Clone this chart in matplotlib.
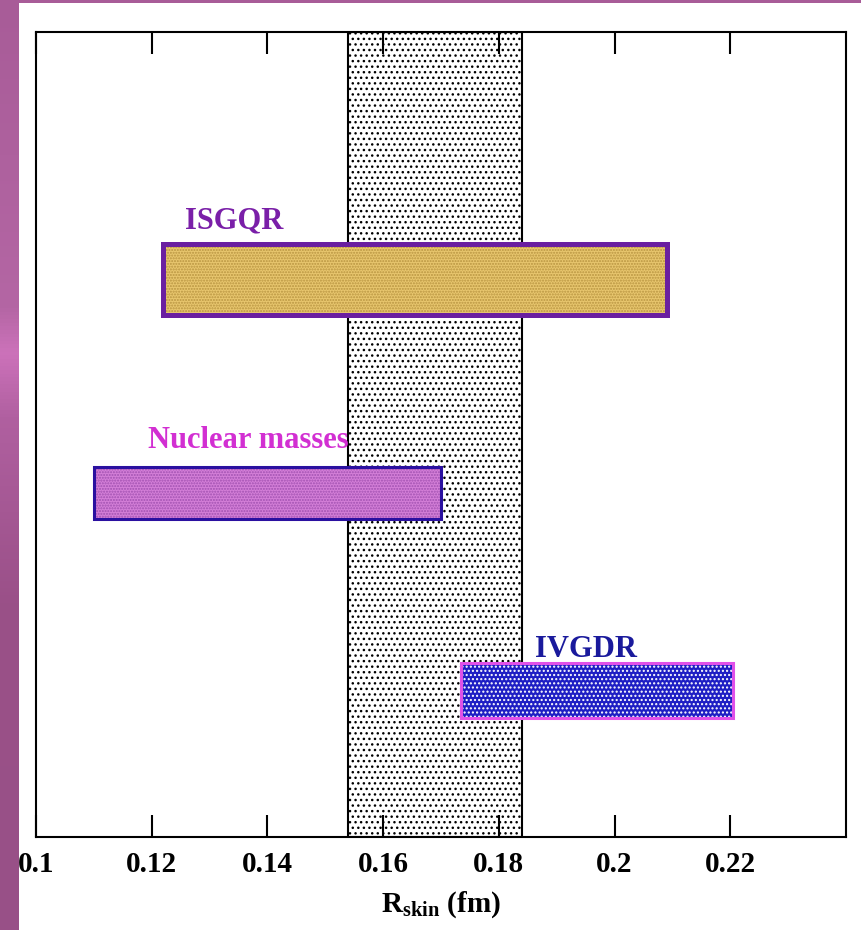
import numpy as np
import matplotlib
matplotlib.use("Agg")
from matplotlib import pyplot as plt
from matplotlib.colors import LinearSegmentedColormap
from matplotlib.patches import Rectangle

# constraints on the neutron skin (fm)
labels = ["ISGQR", "Nuclear masses", "IVGDR"]
x_low = [0.122, 0.110, 0.1735]
x_high = [0.209, 0.170, 0.2205]
band_low = 0.154
band_high = 0.184
x_ticks = [0.1, 0.12, 0.14, 0.16, 0.18, 0.2, 0.22]
x_tick_labels = ["0.1", "0.12", "0.14", "0.16", "0.18", "0.2", "0.22"]

plt.rcParams["font.family"] = ["Liberation Serif", "DejaVu Serif"]
plt.rcParams["font.weight"] = "bold"
plt.rcParams["hatch.linewidth"] = 1.0

fig = plt.figure(figsize=(8.62, 9.30), dpi=100)

# slide background: purple strip on the left/top, white page
bg = fig.add_axes([0, 0, 1, 1], zorder=-10)
bg.set_axis_off()
cmap = LinearSegmentedColormap.from_list(
    "slide",
    [(0.0, "#a85c98"), (0.33, "#b466a4"), (0.38, "#cc72ba"),
     (0.45, "#b060a0"), (0.65, "#9a5088"), (1.0, "#985087")],
)
grad = np.linspace(0, 1, 256).reshape(-1, 1)
bg.imshow(grad, cmap=cmap, aspect="auto", extent=(0, 1, 0, 1), origin="upper")
bg.add_patch(Rectangle((19 / 862, 0), 1, 927 / 930, facecolor="white",
                       edgecolor="none"))
bg.set_xlim(0, 1)
bg.set_ylim(0, 1)

ax = fig.add_axes([36 / 862, 93 / 930, 810 / 862, 805 / 930])
ax.set_facecolor("white")

# allowed band
ax.axvspan(band_low, band_high, facecolor="white", edgecolor="black",
           hatch="...", linewidth=1.5, zorder=1)

rows = [0.6925, 0.4275, 0.182]
heights = [0.089, 0.065, 0.068]
fills = ["#e8c66e", "#d47fd8", "#1e1ec4"]
dots = ["#b89440", "#a050b0", "#ffffff"]
hatches = ["......", "......", "...."]
edges = ["#6a1fa0", "#2a10a0", "#e050e8"]
edge_widths = [3.6, 2.2, 2.2]
text_colors = ["#7a1fa8", "#d22fd2", "#1a1a9c"]
text_x = [0.1258, 0.1194, 0.1863]
text_y = [0.7565, 0.4832, 0.2236]

for i, name in enumerate(labels):
    w = x_high[i] - x_low[i]
    ax.barh(rows[i], w, left=x_low[i], height=heights[i], color=fills[i],
            edgecolor=dots[i], hatch=hatches[i], linewidth=0, zorder=3)
    ax.barh(rows[i], w, left=x_low[i], height=heights[i], fill=False,
            edgecolor=edges[i], linewidth=edge_widths[i], zorder=4)
    ax.text(text_x[i], text_y[i], name, color=text_colors[i], fontsize=22,
            fontweight="bold", ha="left", va="baseline", zorder=5)

ax.set_xlim(0.1, 0.24)
ax.set_ylim(0, 1)
ax.set_xticks(x_ticks)
ax.set_xticklabels(x_tick_labels)
ax.set_yticks([])
ax.tick_params(axis="x", direction="in", length=16, width=1.5, top=True,
               labelsize=21, pad=10)
for s in ax.spines.values():
    s.set_linewidth(1.5)
    s.set_zorder(6)

ax.set_xlabel(r"R$_{\mathregular{skin}}$ (fm)", fontsize=21,
              fontweight="bold", labelpad=8)

fig.savefig("out.png", dpi=100)
